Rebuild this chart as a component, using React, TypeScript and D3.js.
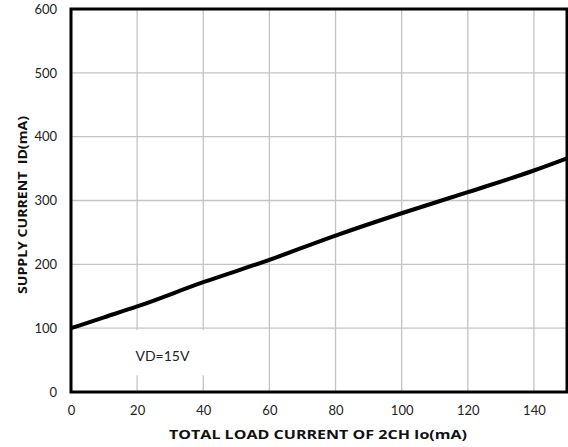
import { useEffect, useRef } from "react";
import { axisBottom, axisLeft, line, curveMonotoneX, scaleLinear, select } from "d3";

// load current (mA) and supply current (mA)
const loadCurrent = [0, 10, 20, 40, 60, 80, 100, 120, 140, 150];
const supplyCurrent = [100, 117, 134, 172, 207, 245, 280, 313, 347, 366];
const xTicks = [0, 20, 40, 60, 80, 100, 120, 140];
const yTicks = [0, 100, 200, 300, 400, 500, 600];

const W = 568;
const H = 447;
const margin = { top: 9, right: 1, bottom: 55, left: 71 };
const width = W - margin.left - margin.right;
const height = H - margin.top - margin.bottom;
const font = "Lato, 'Open Sans', sans-serif";
const titleFont = "'Open Sans', Lato, sans-serif";

export default function App() {
    const xRef = useRef<SVGGElement>(null);
    const yRef = useRef<SVGGElement>(null);

    const x = scaleLinear().domain([0, 150]).range([0, width]);
    const y = scaleLinear().domain([0, 600]).range([height, 0]);

    useEffect(() => {
        if (xRef.current) {
            const g = select(xRef.current);
            g.call(axisBottom(x).tickValues(xTicks).tickSize(0).tickPadding(14));
            g.select(".domain").remove();
            g.selectAll("text").attr("font-family", font).attr("font-size", 13).attr("fill", "#222");
        }
        if (yRef.current) {
            const g = select(yRef.current);
            g.call(axisLeft(y).tickValues(yTicks).tickSize(0).tickPadding(14));
            g.select(".domain").remove();
            g.selectAll("text").attr("font-family", font).attr("font-size", 13).attr("fill", "#222");
        }
    }, []);

    const path = line<number>()
        .x((d) => x(d))
        .y((_, i) => y(supplyCurrent[i]))
        .curve(curveMonotoneX)(loadCurrent);

    return (
        <svg width={W} height={H} style={{ position: "absolute", left: 0, top: 0, background: "#fff" }}>
            <g transform={`translate(${margin.left},${margin.top})`}>
                {xTicks.slice(1).map((t) => (
                    <line key={`gx-${t}`} x1={x(t)} x2={x(t)} y1={0} y2={height} stroke="#c4c4c4" strokeWidth={1.3} />
                ))}
                {yTicks.slice(1).map((t) => (
                    <line key={`gy-${t}`} x1={0} x2={width} y1={y(t)} y2={y(t)} stroke="#c4c4c4" strokeWidth={1.3} />
                ))}
                <rect x={x(8)} y={y(97)} width={x(41) - x(8)} height={y(26) - y(97)} fill="#fff" />
                <text x={x(19.5)} y={y(49)} fontFamily={font} fontSize={14} fill="#222">VD=15V</text>
                <path d={path ?? ""} fill="none" stroke="#000" strokeWidth={4} />
                <rect x={0} y={0} width={width} height={height} fill="none" stroke="#000" strokeWidth={3} />
                <g ref={xRef} transform={`translate(0,${height})`} />
                <g ref={yRef} />
            </g>
            <text x={318} y={439} textAnchor="middle" fontFamily={titleFont} fontSize={13} fontWeight="bold" fill="#111"
                textLength={298} lengthAdjust="spacingAndGlyphs">
                TOTAL LOAD CURRENT OF 2CH Io(mA)
            </text>
            <text transform="translate(27,205) rotate(-90)" textAnchor="middle" fontFamily={titleFont} fontSize={13}
                fontWeight="bold" fill="#111" style={{ whiteSpace: "pre" }} textLength={178} lengthAdjust="spacingAndGlyphs">
                {"SUPPLY CURRENT  ID(mA)"}
            </text>
        </svg>
    );
}
